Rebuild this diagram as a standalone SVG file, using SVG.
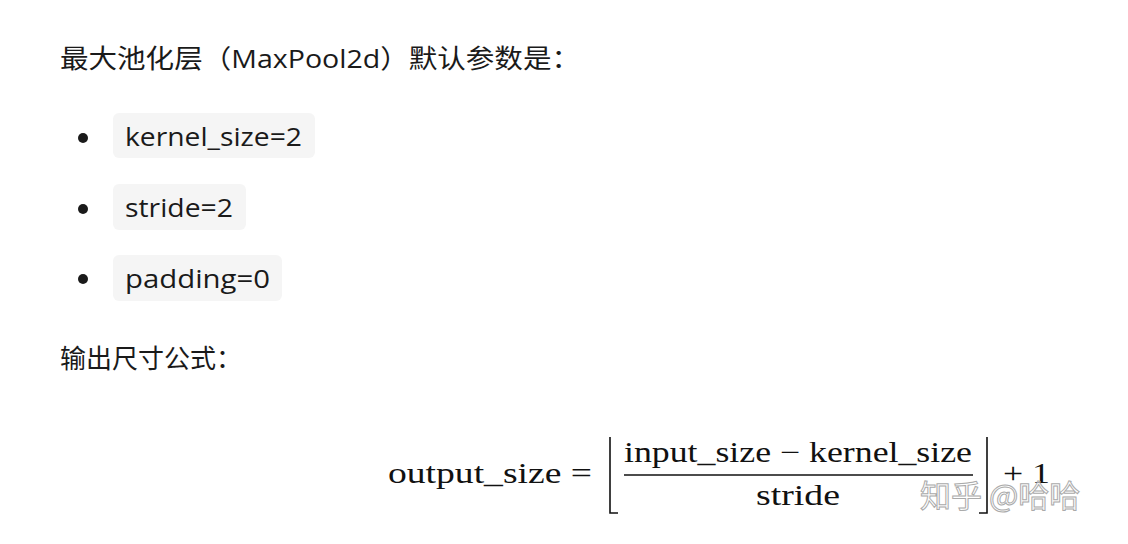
<svg xmlns="http://www.w3.org/2000/svg" width="1128" height="544" viewBox="0 0 1128 544">
<style>
.t{font-family:"Open Sans","Noto Sans CJK SC",sans-serif;font-size:26px;fill:#1a1a1a}
.c{fill:#f5f5f5}
.m{font-family:"Liberation Serif","DejaVu Serif",serif;font-size:29px;fill:#111}
.b{stroke:#111;stroke-width:1.6;fill:none}
</style>
<rect width="1128" height="544" fill="#fff"/>
<text class="t" x="60" y="68" textLength="520" lengthAdjust="spacingAndGlyphs">最大池化层（MaxPool2d）默认参数是：</text>
<circle cx="83" cy="138" r="5" fill="#1a1a1a"/>
<circle cx="83" cy="209" r="5" fill="#1a1a1a"/>
<circle cx="83" cy="279" r="5" fill="#1a1a1a"/>
<rect class="c" x="113" y="113" width="202" height="45" rx="6"/>
<rect class="c" x="113" y="184" width="133" height="46" rx="6"/>
<rect class="c" x="113" y="255" width="169" height="46" rx="6"/>
<text class="t" x="125" y="146" textLength="177" lengthAdjust="spacingAndGlyphs">kernel_size=2</text>
<text class="t" x="125" y="217" textLength="108" lengthAdjust="spacingAndGlyphs">stride=2</text>
<text class="t" x="125" y="288" textLength="145" lengthAdjust="spacingAndGlyphs">padding=0</text>
<text class="t" x="60" y="368">输出尺寸公式：</text>
<text class="m" x="388" y="483" textLength="204" lengthAdjust="spacingAndGlyphs">output_size =</text>
<path class="b" d="M610 437 V513 H618"/>
<text class="m" x="624" y="462" textLength="348" lengthAdjust="spacingAndGlyphs">input_size − kernel_size</text>
<line x1="624" y1="475" x2="973" y2="475" stroke="#111" stroke-width="1.4"/>
<text class="m" x="756" y="505" textLength="84" lengthAdjust="spacingAndGlyphs">stride</text>
<path class="b" d="M987 437 V513 H979"/>
<text class="m" x="1003" y="483" textLength="47" lengthAdjust="spacingAndGlyphs">+ 1</text>
<text x="920" y="507" font-family="Noto Sans CJK SC,sans-serif" font-size="31" fill="#fff" fill-opacity="0.6" stroke="#aaa" stroke-width="1">知乎 @哈哈</text>
</svg>
